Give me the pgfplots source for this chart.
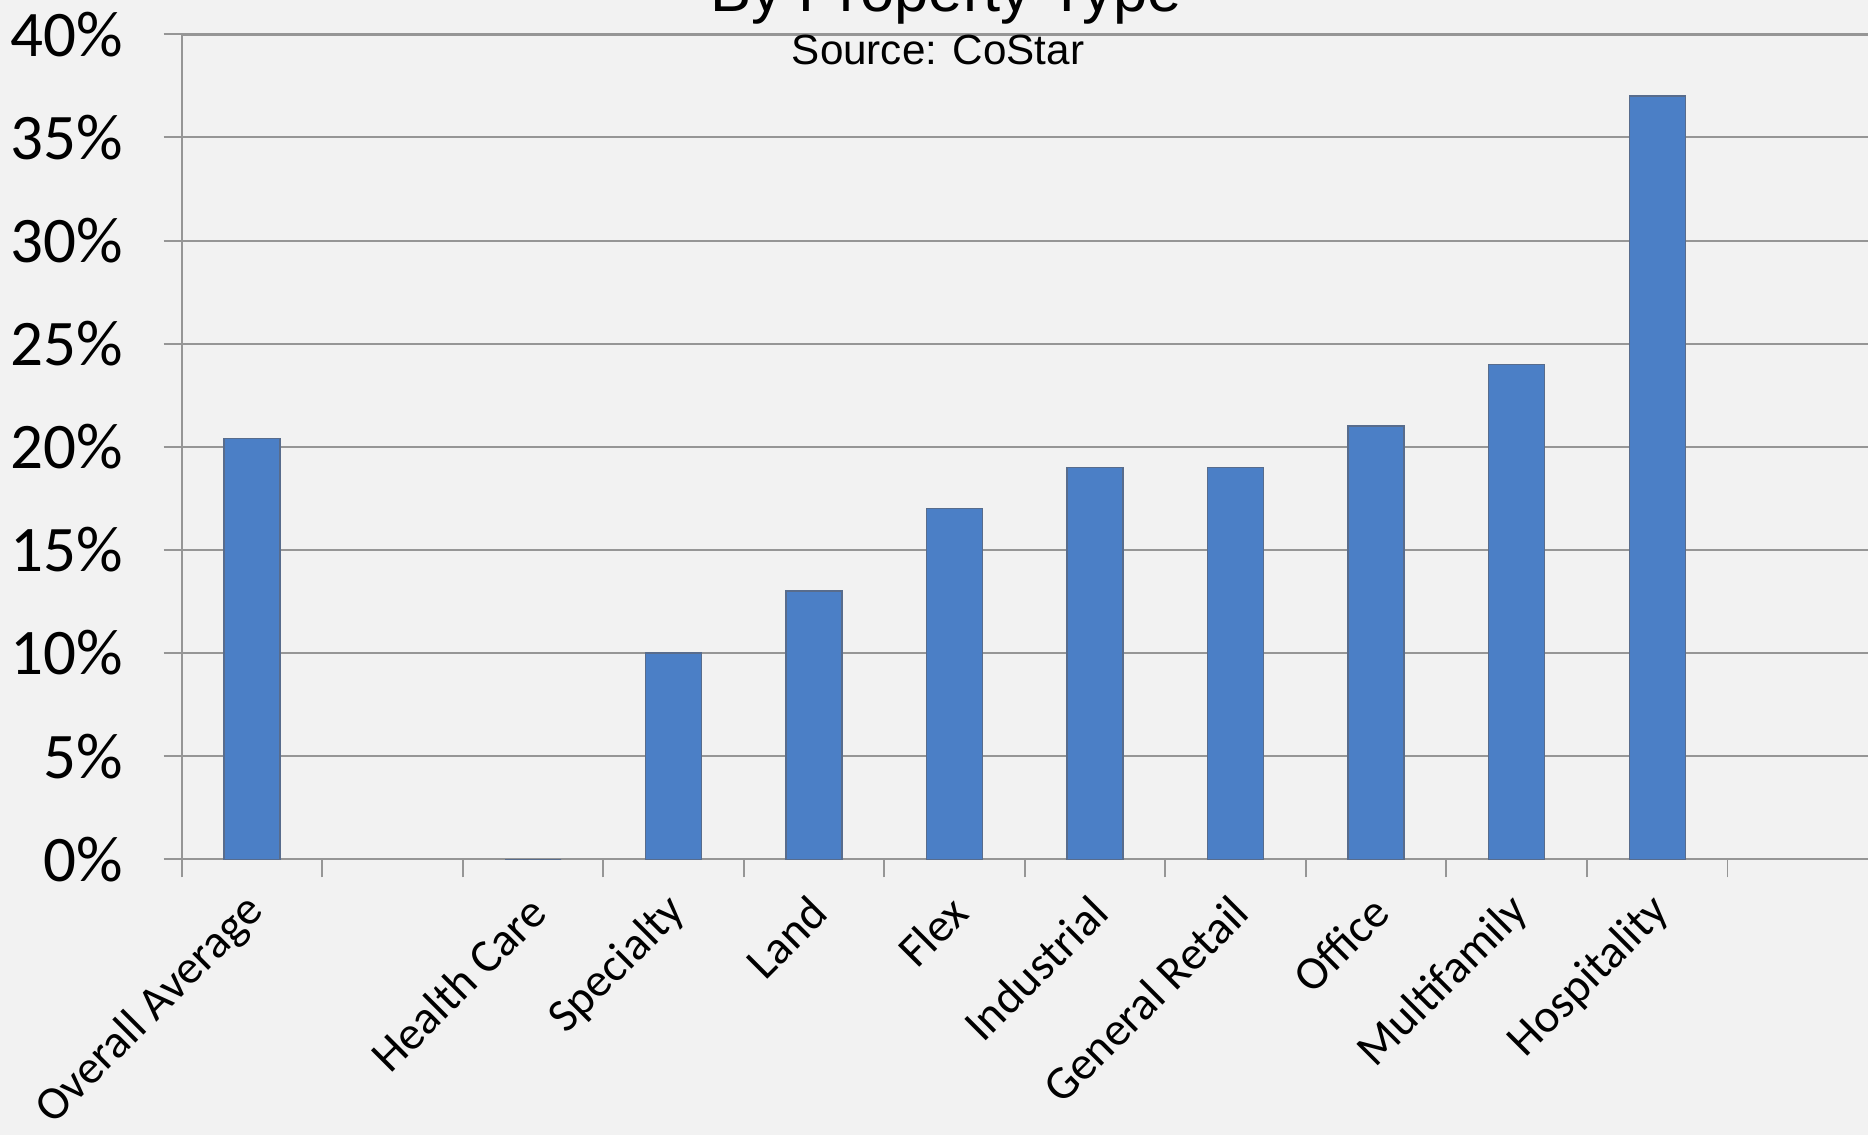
\documentclass[border=0pt]{standalone}
\usepackage{pgfplots}
\pgfplotsset{compat=1.18}
\usepackage{fontspec}
\setmainfont{Carlito}
\newfontfamily\arialfont{Liberation Sans}
\definecolor{bg}{HTML}{F2F2F2}
\definecolor{barblue}{RGB}{75,127,198}
\definecolor{baredge}{RGB}{88,108,140}
\definecolor{gridgray}{RGB}{150,150,150}

\begin{document}
\begin{tikzpicture}
\fill[bg] (0,0) rectangle (18.68cm,11.35cm);
\begin{axis}[
  at={(1.817cm,2.757cm)}, anchor=south west,
  scale only axis, width=16.863cm, height=8.25cm,
  xmin=-0.5, xmax=11.5, ymin=0, ymax=40,
  axis x line*=bottom, axis y line*=left,
  axis line style={gridgray, line width=0.55pt, -},
  ymajorgrids, grid style={gridgray, line width=0.55pt},
  tick align=outside, major tick length=0.18cm,
  tick style={gridgray, line width=0.55pt},
  ytick={0,5,...,40},
  yticklabels={0\%,5\%,10\%,15\%,20\%,25\%,30\%,35\%,40\%},
  yticklabel style={font=\fontsize{18.5}{21}\selectfont, anchor=east, inner sep=0pt, xshift=-0.40cm},
  % category boundaries carry the tick marks, the centres carry the names
  xtick={-0.5,0.5,...,10.5},
  xticklabels={},
  extra x ticks={0,1,2,3,4,5,6,7,8,9,10},
  extra x tick labels={Overall Average,,Health Care,Specialty,Land,Flex,Industrial,General Retail,Office,Multifamily,Hospitality},
  extra x tick style={major tick length=0pt},
  xticklabel style={font=\fontsize{13.4}{16}\selectfont, inner sep=0pt, xshift=0.05cm, yshift=-0.45cm, rotate=45, anchor=east},
  ybar, bar width=0.56cm,
]
\addplot[fill=barblue, draw=baredge, line width=0.4pt]
  coordinates {(0,20.4) (2,0) (3,10) (4,13) (5,17) (6,19) (7,19) (8,21) (9,24) (10,37)};
\draw[gridgray, line width=0.9pt] (axis cs:-0.5,40) -- (axis cs:11.5,40);
\end{axis}
\node[anchor=base, font=\arialfont\fontsize{17.5}{20}\selectfont] at (9.46cm,11.23cm) {By Property Type};
\node[anchor=base, font=\arialfont\fontsize{12}{14}\selectfont] at (9.38cm,10.705cm) {Source: CoStar};
\pgfresetboundingbox
\path (0,0) rectangle (18.68cm,11.35cm);
\end{tikzpicture}
\end{document}
